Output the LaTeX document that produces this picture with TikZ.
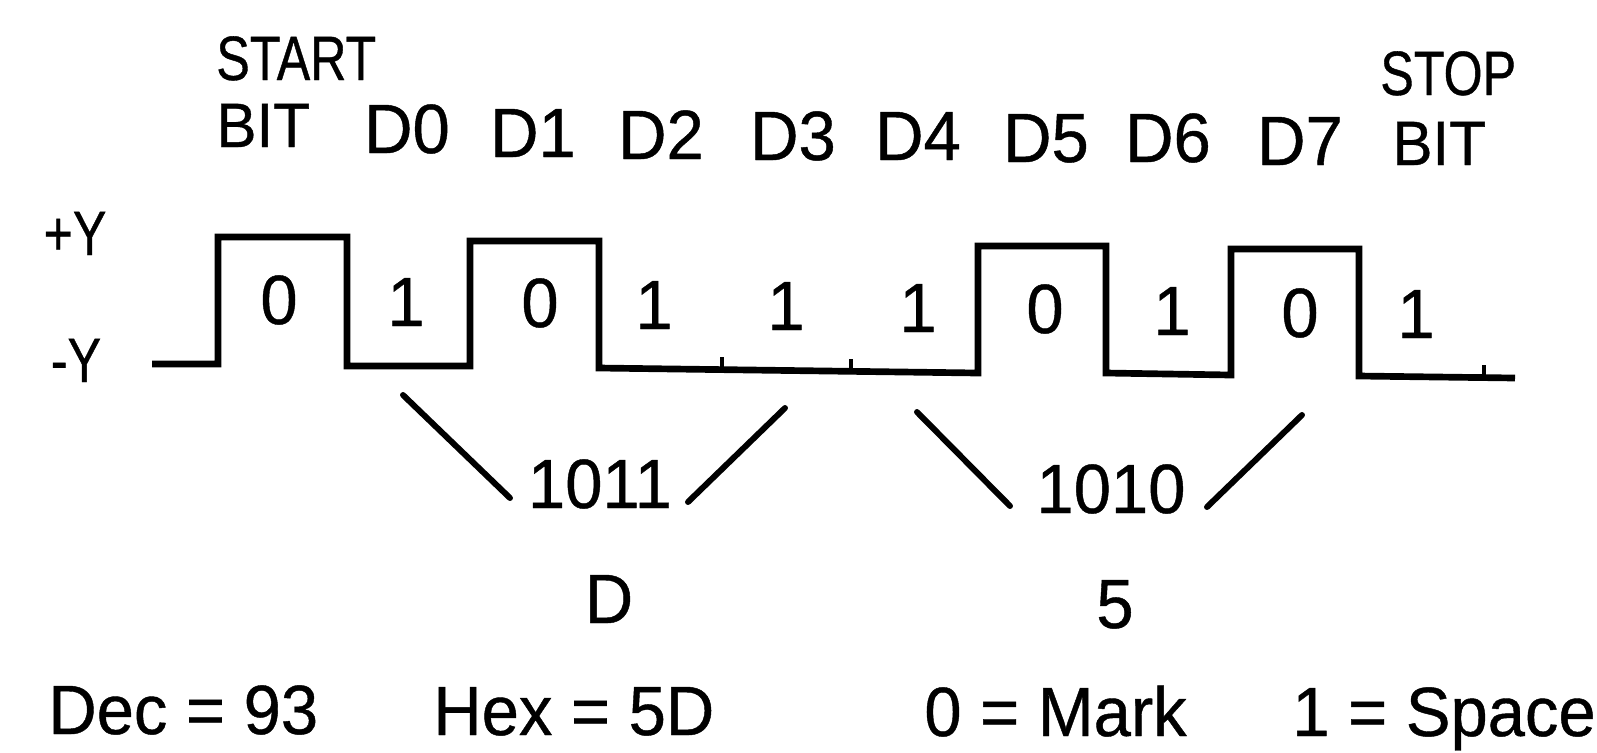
\documentclass[tikz,border=0pt]{standalone}
\usepackage{fontspec}
\setmainfont{Liberation Sans}[FakeStretch=0.96, FakeBold=0.6]
\newfontfamily\headfont{Liberation Sans}[FakeStretch=0.8, FakeBold=0.6]
\begin{document}
\begin{tikzpicture}[x=0.02cm, y=-0.02cm,
  wave/.style={line width=3.8pt, line join=miter, line cap=butt},
  tickmark/.style={line width=2.6pt},
  slash/.style={line width=3.4pt, line cap=round},
  hdr/.style={font=\headfont\fontsize{35.7}{36}\selectfont, inner sep=0pt},
  hdrw/.style={font=\fontsize{35.7}{36}\selectfont, inner sep=0pt},
  lbl/.style={font=\fontsize{39.7}{40}\selectfont, inner sep=0pt}]
\useasboundingbox (0,0) rectangle (1597,752);

% header row: start bit, data bits, stop bit
\node[hdr, anchor=base west]  (start) at (216,80) {START};
\node[hdrw, anchor=base west] (bitA)  at (216,147) {BIT};
\node[lbl, anchor=base] (d0) at (407,153) {D0};
\node[lbl, anchor=base] (d1) at (533,157) {D1};
\node[lbl, anchor=base] (d2) at (661,159) {D2};
\node[lbl, anchor=base] (d3) at (793,160) {D3};
\node[lbl, anchor=base] (d4) at (918,160) {D4};
\node[lbl, anchor=base] (d5) at (1046,162) {D5};
\node[lbl, anchor=base] (d6) at (1168,162) {D6};
\node[lbl, anchor=base] (d7) at (1300,165) {D7};
\node[hdr, anchor=base west]  (stop) at (1380,95) {STOP};
\node[hdrw, anchor=base west] (bitB) at (1392,165) {BIT};

% voltage levels
\node[hdr, anchor=base] (pv) at (75,255) {+Y};
\node[hdr, anchor=base] (nv) at (76,382) {-Y};

% serial waveform
\draw[wave] (152,364) -- (218,364) -- (218,237) -- (347,237) -- (347,366)
  -- (470,366) -- (470,241) -- (599,241) -- (599,368) -- (978,373)
  -- (978,246) -- (1106,246) -- (1106,373) -- (1231,375) -- (1231,249)
  -- (1359,249) -- (1359,376) -- (1515,378);
\draw[tickmark] (722,370) -- (722,357);
\draw[tickmark] (851,372) -- (851,359);
\draw[tickmark] (1484,378) -- (1484,365);

% bit values in each cell
\node[lbl, anchor=base] (b0) at (279,324) {0};
\node[lbl, anchor=base] (b1) at (406,326) {1};
\node[lbl, anchor=base] (b2) at (540,327) {0};
\node[lbl, anchor=base] (b3) at (654,329) {1};
\node[lbl, anchor=base] (b4) at (786,330) {1};
\node[lbl, anchor=base] (b5) at (918,332) {1};
\node[lbl, anchor=base] (b6) at (1045,333) {0};
\node[lbl, anchor=base] (b7) at (1172,335) {1};
\node[lbl, anchor=base] (b8) at (1300,337) {0};
\node[lbl, anchor=base] (b9) at (1416,338) {1};

% nibbles
\node[lbl, anchor=base] (lo) at (600,508) {1011};
\node[lbl, anchor=base] (hi) at (1111,513) {1010};
\draw[slash] (403,395) -- (510,498);
\draw[slash] (688,502) -- (785,408);
\draw[slash] (917,412) -- (1010,506);
\draw[slash] (1207,507) -- (1302,415);
\node[lbl, anchor=base] (hexlo) at (609,623) {D};
\node[lbl, anchor=base] (hexhi) at (1115,628) {5};

% summary line
\node[lbl, anchor=base west] (dec)   at (48,734) {Dec = 93};
\node[lbl, anchor=base west] (hex)   at (433,735) {Hex = 5D};
\node[lbl, anchor=base west] (mark)  at (924,736) {0 = Mark};
\node[lbl, anchor=base west] (space) at (1292,736) {1 = Space};
\end{tikzpicture}
\end{document}
